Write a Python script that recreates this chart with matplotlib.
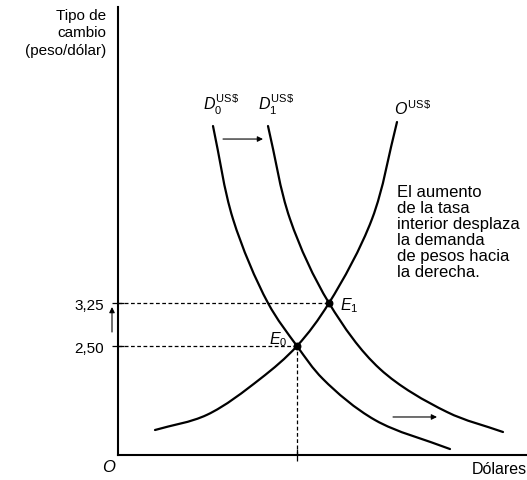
import numpy as np
import matplotlib
matplotlib.use("Agg")
import matplotlib.pyplot as plt
from matplotlib.path import Path
from matplotlib.patches import PathPatch

plt.rcParams['font.family'] = ['Liberation Sans', 'DejaVu Sans']
plt.rcParams['mathtext.fontset'] = 'custom'
plt.rcParams['mathtext.rm'] = 'Liberation Sans'
plt.rcParams['mathtext.it'] = 'Liberation Sans:italic'
plt.rcParams['mathtext.bf'] = 'Liberation Sans:bold'

# ---- data ----
# Demand curve D0 (US$)
d0_x = [2.375, 2.875, 3.75, 4.475, 5.125, 6.425, 8.30]
d0_y = [6.337, 4.715, 3.25, 2.50, 1.924, 1.209, 0.703]
# Demand curve D1 (US$), shifted right
d1_x = [3.75, 4.30, 5.275, 6.55, 8.225, 9.625]
d1_y = [6.337, 4.715, 3.25, 2.099, 1.349, 1.00]
# Supply curve O (US$)
o_x = [0.925, 2.225, 3.55, 4.475, 5.275, 6.35, 6.975]
o_y = [1.035, 1.300, 1.924, 2.50, 3.25, 4.715, 6.407]
# Equilibria
eq_x = [4.475, 5.275]
eq_y = [2.50, 3.25]
ytick_vals = [2.50, 3.25]
ytick_labels = ['2,50', '3,25']

W, H = 527, 481
fig = plt.figure(figsize=(W / 100, H / 100), dpi=100)
ax = fig.add_axes([118 / W, 25 / H, (W - 118) / W, 448 / H])
XMAX, YMIN, YMAX = 10.225, 0.599, 8.413
ax.set_xlim(0, XMAX)
ax.set_ylim(YMIN, YMAX)
for s in ['top', 'right']:
    ax.spines[s].set_visible(False)
for s in ['left', 'bottom']:
    ax.spines[s].set_linewidth(1.5)

# scale factors to make the spline parameterisation isotropic on screen
SX = (W - 118) / XMAX
SY = 448 / (YMAX - YMIN)


def smooth_path(xs, ys, alpha=0.5):
    P = np.column_stack([np.asarray(xs) * SX, np.asarray(ys) * SY])
    n = len(P)
    ext = np.vstack([2 * P[0] - P[1], P, 2 * P[-1] - P[-2]])
    verts = [P[0]]
    codes = [Path.MOVETO]
    for i in range(1, n):
        p0, p1, p2, p3 = ext[i - 1], ext[i], ext[i + 1], ext[i + 2]
        t01 = np.linalg.norm(p1 - p0) ** alpha
        t12 = np.linalg.norm(p2 - p1) ** alpha
        t23 = np.linalg.norm(p3 - p2) ** alpha
        m1 = (p2 - p1 + t12 * ((p1 - p0) / t01 - (p2 - p0) / (t01 + t12)))
        m2 = (p2 - p1 + t12 * ((p3 - p2) / t23 - (p3 - p1) / (t12 + t23)))
        c1 = p1 + m1 / 3
        c2 = p2 - m2 / 3
        verts += [c1, c2, p2]
        codes += [Path.CURVE4] * 3
    verts = np.array(verts) / np.array([SX, SY])
    return Path(verts, codes)


for xs, ys in [(d0_x, d0_y), (d1_x, d1_y), (o_x, o_y)]:
    ax.add_patch(PathPatch(smooth_path(xs, ys), fill=False, lw=1.6,
                           edgecolor='black', capstyle='round'))

# dashed guide lines
dash = (0, (3, 2))
for ex, ey in zip(eq_x, eq_y):
    ax.plot([0, ex], [ey, ey], ls=dash, lw=0.9, color='black')
ax.plot([eq_x[0], eq_x[0]], [YMIN, eq_y[0]], ls=dash, lw=0.9, color='black')
ax.scatter(eq_x, eq_y, s=22, color='black', zorder=5)

# ticks
ax.set_yticks(ytick_vals)
ax.set_yticklabels(ytick_labels, fontsize=11)
ax.set_xticks([eq_x[0]])
ax.set_xticklabels([''])
ax.tick_params(axis='both', direction='inout', length=8, width=0.9, pad=9)
ax.tick_params(axis='y', pad=6)

# equilibrium labels
ax.text(eq_x[0] - 0.25, eq_y[0] + 0.12, r'$E_0$', fontsize=11.5, ha='right', va='center')
ax.text(eq_x[1] + 0.27, eq_y[1] - 0.02, r'$E_1$', fontsize=11.5, ha='left', va='center')

# curve labels
fs_lab = 11.5
ax.text(d0_x[0] + 0.2, 6.72, r'$D_0^{\mathrm{US\$}}$', fontsize=fs_lab, ha='center', va='center')
ax.text(d1_x[0] + 0.2, 6.72, r'$D_1^{\mathrm{US\$}}$', fontsize=fs_lab, ha='center', va='center')
ax.text(o_x[-1] + 0.4, 6.65, r'$O^{\mathrm{US\$}}$', fontsize=fs_lab, ha='center', va='center')

# arrows
ap = dict(arrowstyle='-|>', lw=0.8, color='black', mutation_scale=8, shrinkA=0, shrinkB=0)
ax.annotate('', xy=(3.625, 6.11), xytext=(2.625, 6.11), arrowprops=ap)
ax.annotate('', xy=(7.975, 1.262), xytext=(6.875, 1.262), arrowprops=ap)
ax.annotate('', xy=(-0.15, 3.18), xytext=(-0.15, 2.744), arrowprops=ap,
            annotation_clip=False)

# texts
fig.text(106 / W, 1 - 9 / H, 'Tipo de\ncambio\n(peso/dólar)', fontsize=11,
         ha='right', va='top', linespacing=1.3, multialignment='right')
fig.text(109 / W, 1 - 468 / H, 'O', fontsize=12, style='italic', ha='center', va='center')
fig.text(527 / W, 1 - 470 / H, 'Dólares', fontsize=11.5, ha='right', va='center')
fig.text(397 / W, 1 - 185 / H,
         'El aumento\nde la tasa\ninterior desplaza\nla demanda\nde pesos hacia\nla derecha.',
         fontsize=12, ha='left', va='top', linespacing=1.08)

fig.savefig('out.png', dpi=100)
